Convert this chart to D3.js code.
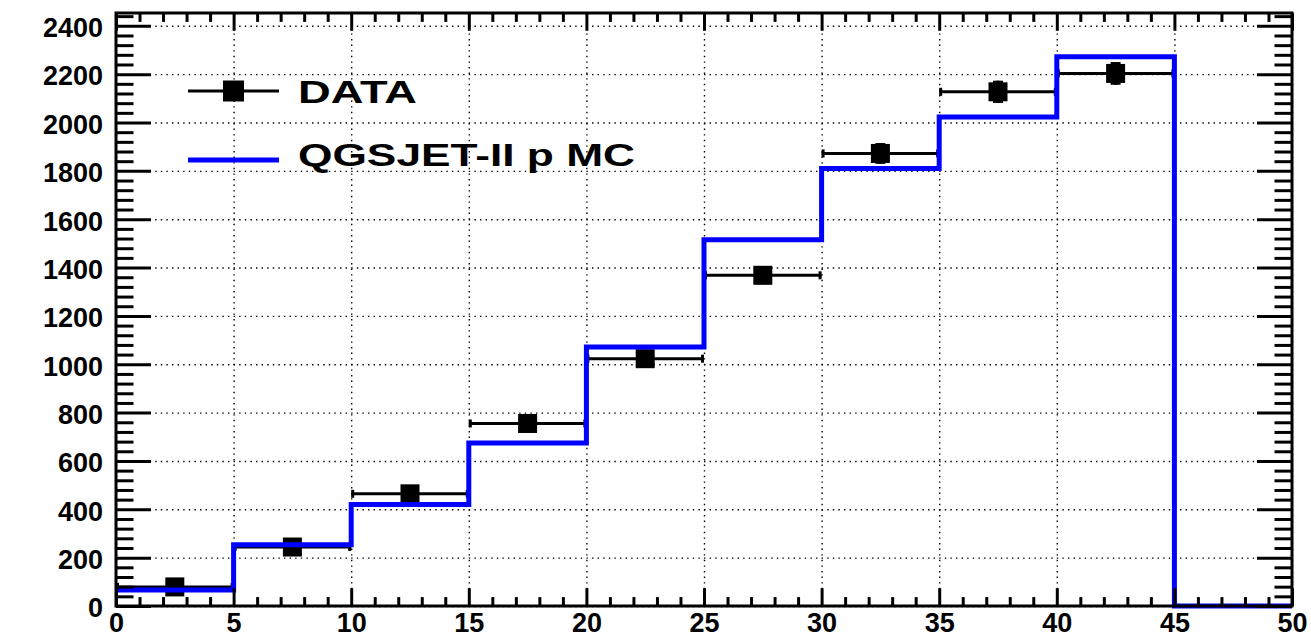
<!DOCTYPE html>
<html>
<head>
<meta charset="utf-8">
<script src="https://cdn.jsdelivr.net/npm/d3@7"></script>
<style>
  body { margin: 0; background: #fff; }
  svg { display: block; }
  text { font-family: "Liberation Sans", Arial, Helvetica, sans-serif; font-weight: bold; fill: #000; }
</style>
</head>
<body>
<svg id="chart" width="1311" height="642"></svg>
<script>
// Histogram bins (5-unit wide) and contents
const binEdges   = [0, 5, 10, 15, 20, 25, 30, 35, 40, 45, 50];
const dataCounts = [79, 244, 464, 755, 1023, 1368, 1872, 2127, 2203];
const dataErrors = [9, 16, 22, 27, 32, 37, 43, 46, 47];
const mcCounts   = [66, 253, 420, 674, 1071, 1515, 1810, 2023, 2272, 0];

// Axis ticks
const xTickValues = [0, 5, 10, 15, 20, 25, 30, 35, 40, 45, 50];
const yTickValues = [0, 200, 400, 600, 800, 1000, 1200, 1400, 1600, 1800, 2000, 2200, 2400];
const xRange = [0, 50];
const yRange = [0, 2453];

const legendLabels = ["DATA", "QGSJET-II p MC"];

const svg = d3.select("#chart");
const frame = { left: 116, right: 1292, top: 13, bottom: 606 };
const plotW = frame.right - frame.left;
const plotH = frame.bottom - frame.top;

const x = d3.scaleLinear().domain(xRange).range([frame.left, frame.right]);
const y = d3.scaleLinear().domain(yRange).range([frame.bottom, frame.top]);

const xMinor = d3.range(xRange[0], xRange[1] + 1e-9, 1).filter(v => !xTickValues.includes(v));
const yMinor = d3.range(0, yRange[1], 40).filter(v => !yTickValues.includes(v));

// ---- dotted grid ----
const gridStyle = g => {
  g.select(".domain").remove();
  g.selectAll(".tick line")
    .attr("stroke", "#000").attr("stroke-width", 1.4)
    .attr("stroke-dasharray", "1.4,4.2");
};
svg.append("g")
  .attr("transform", `translate(0,${frame.bottom})`)
  .call(d3.axisBottom(x).tickValues(xTickValues).tickSize(-plotH).tickFormat(""))
  .call(gridStyle);
svg.append("g")
  .attr("transform", `translate(${frame.left},0)`)
  .call(d3.axisLeft(y).tickValues(yTickValues).tickSize(-plotW).tickFormat(""))
  .call(gridStyle);

// ---- data points with error bars ----
const dataG = svg.append("g");
dataCounts.forEach((v, i) => {
  const x0 = x(binEdges[i]), x1 = x(binEdges[i + 1]);
  const xc = x((binEdges[i] + binEdges[i + 1]) / 2);
  const yc = y(v);
  const yLo = y(v - dataErrors[i]), yHi = y(v + dataErrors[i]);
  const ln = (a, b, c, d) => dataG.append("line")
    .attr("x1", a).attr("y1", b).attr("x2", c).attr("y2", d)
    .attr("stroke", "#000").attr("stroke-width", 3);
  ln(x0, yc, x1, yc);
  ln(x0 + 1.5, yc - 4, x0 + 1.5, yc + 4);
  ln(x1 - 1.5, yc - 4, x1 - 1.5, yc + 4);
  ln(xc, yLo, xc, yHi);
  ln(xc - 5, yHi + 1.5, xc + 5, yHi + 1.5);
  ln(xc - 5, yLo - 1.5, xc + 5, yLo - 1.5);
  dataG.append("rect")
    .attr("x", xc - 9.5).attr("y", yc - 9.5)
    .attr("width", 19).attr("height", 19)
    .attr("fill", "#000");
});

// ---- MC histogram (step line) ----
const mcPoints = mcCounts.map((v, i) => ({ e: binEdges[i], v }));
mcPoints.push({ e: binEdges[binEdges.length - 1], v: mcCounts[mcCounts.length - 1] });
svg.append("path")
  .datum(mcPoints)
  .attr("d", d3.line().x(d => x(d.e)).y(d => y(d.v)).curve(d3.curveStepAfter))
  .attr("fill", "none")
  .attr("stroke", "#0000ff")
  .attr("stroke-width", 5)
  .attr("stroke-linejoin", "miter");

// ---- axes: ticks on all four sides ----
const tickStyle = g => {
  g.select(".domain").remove();
  g.selectAll(".tick line").attr("stroke", "#000").attr("stroke-width", 3);
  g.selectAll(".tick text").style("font-size", "27px").attr("fill", "#000");
};
const xMajorLen = 17.8, xMinorLen = 8.9, yMajorLen = 35, yMinorLen = 17.5;

// bottom
svg.append("g").attr("transform", `translate(0,${frame.bottom})`)
  .call(d3.axisBottom(x).tickValues(xTickValues).tickSize(-xMajorLen).tickPadding(7).tickFormat(d3.format("d")))
  .call(tickStyle);
svg.append("g").attr("transform", `translate(0,${frame.bottom})`)
  .call(d3.axisBottom(x).tickValues(xMinor).tickSize(-xMinorLen).tickFormat(""))
  .call(tickStyle);
// top
svg.append("g").attr("transform", `translate(0,${frame.top})`)
  .call(d3.axisTop(x).tickValues(xTickValues).tickSize(-xMajorLen).tickFormat(""))
  .call(tickStyle);
svg.append("g").attr("transform", `translate(0,${frame.top})`)
  .call(d3.axisTop(x).tickValues(xMinor).tickSize(-xMinorLen).tickFormat(""))
  .call(tickStyle);
// left
svg.append("g").attr("transform", `translate(${frame.left},0)`)
  .call(d3.axisLeft(y).tickValues(yTickValues).tickSize(-yMajorLen).tickPadding(13).tickFormat(d3.format("d")))
  .call(tickStyle)
  .call(g => g.selectAll(".tick text").attr("dy", "0.4em"));
svg.append("g").attr("transform", `translate(${frame.left},0)`)
  .call(d3.axisLeft(y).tickValues(yMinor).tickSize(-yMinorLen).tickFormat(""))
  .call(tickStyle);
// right
svg.append("g").attr("transform", `translate(${frame.right},0)`)
  .call(d3.axisRight(y).tickValues(yTickValues).tickSize(-yMajorLen).tickFormat(""))
  .call(tickStyle);
svg.append("g").attr("transform", `translate(${frame.right},0)`)
  .call(d3.axisRight(y).tickValues(yMinor).tickSize(-yMinorLen).tickFormat(""))
  .call(tickStyle);

// frame
svg.append("rect")
  .attr("x", frame.left).attr("y", frame.top)
  .attr("width", plotW).attr("height", plotH)
  .attr("fill", "none").attr("stroke", "#000").attr("stroke-width", 3);

// ---- legend ----
const leg = svg.append("g");
leg.append("line").attr("x1", 188).attr("x2", 279).attr("y1", 91).attr("y2", 91)
  .attr("stroke", "#000").attr("stroke-width", 3);
leg.append("rect").attr("x", 223).attr("y", 80.5).attr("width", 21).attr("height", 21).attr("fill", "#000");
leg.append("text").attr("x", 298).attr("y", 103)
  .style("font-size", "32px")
  .attr("textLength", 119).attr("lengthAdjust", "spacingAndGlyphs")
  .text(legendLabels[0]);
leg.append("line").attr("x1", 188).attr("x2", 279).attr("y1", 160).attr("y2", 160)
  .attr("stroke", "#0000ff").attr("stroke-width", 5);
leg.append("text").attr("x", 298).attr("y", 166)
  .style("font-size", "32px")
  .attr("textLength", 337).attr("lengthAdjust", "spacingAndGlyphs")
  .text(legendLabels[1]);
</script>
</body>
</html>
